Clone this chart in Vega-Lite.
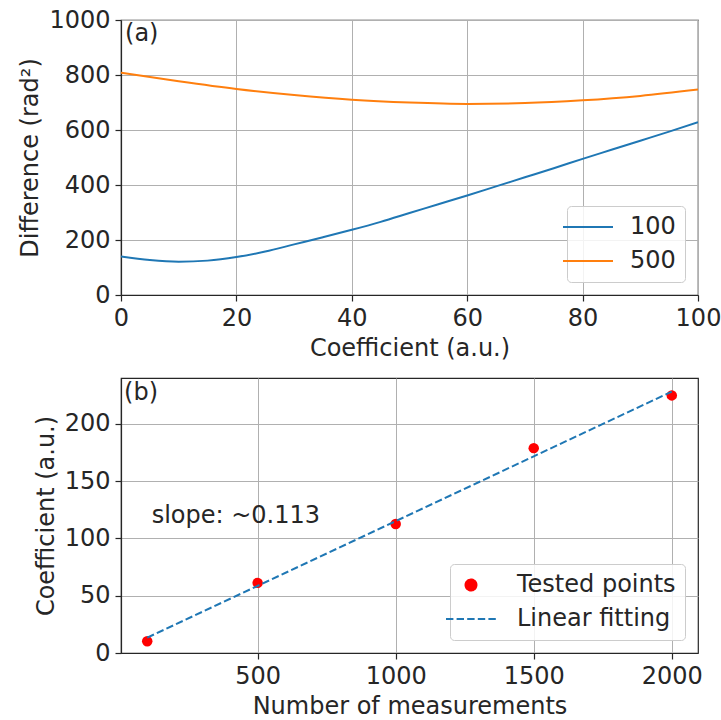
{
  "$schema": "https://vega.github.io/schema/vega-lite/v6.json",
  "background": "white",
  "padding": {"left": 18, "top": 7, "right": 5, "bottom": 5},
  "spacing": 16,
  "resolve": {"scale": {"color": "independent"}, "legend": {"color": "independent"}},
  "config": {
    "font": "DejaVu Sans",
    "view": {"stroke": "#262626", "strokeWidth": 1.2},
    "axis": {
      "labelFont": "DejaVu Sans", "labelFontSize": 24, "labelColor": "#262626",
      "titleFont": "DejaVu Sans", "titleFontSize": 24, "titleFontWeight": "normal", "titleColor": "#262626",
      "grid": true, "gridColor": "#b0b0b0", "gridWidth": 1,
      "tickColor": "#262626", "tickSize": 6, "tickWidth": 1.2,
      "domainColor": "#262626", "domainWidth": 1.2,
      "labelPadding": 5, "labelFlush": false, "labelOverlap": false, "labelBound": false,
      "titlePadding": 6, "format": "d"
    },
    "legend": {
      "labelFont": "DejaVu Sans", "labelFontSize": 24, "labelColor": "#262626",
      "fillColor": "rgba(255,255,255,0.85)", "strokeColor": "#cccccc", "cornerRadius": 4,
      "padding": 9, "offset": 13, "labelOffset": 34, "rowPadding": 10
    }
  },
  "datasets": {
    "curves": [
      {"coef": 0, "diff": 140, "n": "100"}, {"coef": 5, "diff": 127, "n": "100"}, {"coef": 10, "diff": 121, "n": "100"},
      {"coef": 15, "diff": 125, "n": "100"}, {"coef": 20, "diff": 138, "n": "100"}, {"coef": 25, "diff": 158, "n": "100"},
      {"coef": 30, "diff": 184, "n": "100"}, {"coef": 35, "diff": 210, "n": "100"}, {"coef": 40, "diff": 237, "n": "100"},
      {"coef": 45, "diff": 266, "n": "100"}, {"coef": 50, "diff": 298, "n": "100"}, {"coef": 55, "diff": 330, "n": "100"},
      {"coef": 60, "diff": 362, "n": "100"}, {"coef": 65, "diff": 395, "n": "100"}, {"coef": 70, "diff": 428, "n": "100"},
      {"coef": 75, "diff": 461, "n": "100"}, {"coef": 80, "diff": 495, "n": "100"}, {"coef": 85, "diff": 528, "n": "100"},
      {"coef": 90, "diff": 561, "n": "100"}, {"coef": 95, "diff": 594, "n": "100"}, {"coef": 100, "diff": 628, "n": "100"},
      {"coef": 0, "diff": 808, "n": "500"}, {"coef": 10, "diff": 777, "n": "500"}, {"coef": 20, "diff": 749, "n": "500"},
      {"coef": 30, "diff": 727, "n": "500"}, {"coef": 40, "diff": 710, "n": "500"}, {"coef": 50, "diff": 700, "n": "500"},
      {"coef": 60, "diff": 695, "n": "500"}, {"coef": 70, "diff": 698, "n": "500"}, {"coef": 80, "diff": 708, "n": "500"},
      {"coef": 90, "diff": 724, "n": "500"}, {"coef": 100, "diff": 747, "n": "500"}
    ],
    "labelA": [{"x": 0.7, "y": 949, "label": "(a)"}],
    "points": [
      {"n": 100, "value": 10.2, "series": "Tested points"},
      {"n": 500, "value": 61.2, "series": "Tested points"},
      {"n": 1000, "value": 112.6, "series": "Tested points"},
      {"n": 1500, "value": 178.8, "series": "Tested points"},
      {"n": 2000, "value": 224.8, "series": "Tested points"}
    ],
    "fit": [
      {"n": 100, "value": 13.4, "series": "Linear fitting"},
      {"n": 2000, "value": 228.1, "series": "Linear fitting"}
    ],
    "labelsB": [
      {"x": 16, "y": 227, "label": "(b)"},
      {"x": 116, "y": 120, "label": "slope: ~0.113"}
    ]
  },
  "vconcat": [
    {
      "width": 577,
      "height": 275,
      "layer": [
        {
          "data": {"name": "curves"},
          "mark": {"type": "line", "strokeWidth": 2, "clip": true, "interpolate": "monotone"},
          "encoding": {
            "x": {"field": "coef", "type": "quantitative", "scale": {"domain": [0, 100], "nice": false, "zero": false},
                  "axis": {"title": "Coefficient (a.u.)", "values": [0, 20, 40, 60, 80, 100]}},
            "y": {"field": "diff", "type": "quantitative", "scale": {"domain": [0, 1000], "nice": false},
                  "axis": {"title": "Difference (rad²)", "values": [0, 200, 400, 600, 800, 1000]}},
            "color": {"field": "n", "type": "nominal",
                      "scale": {"domain": ["100", "500"], "range": ["#1f77b4", "#ff7f0e"]},
                      "legend": {"title": null, "orient": "bottom-right", "labelOffset": 30,
                        "encode": {"symbols": {"update": {
                          "shape": {"value": "stroke"},
                          "size": {"signal": "datum.value === '100' || datum.value === '500' ? 2500 : 120"},
                          "strokeWidth": {"value": 2},
                          "opacity": {"value": 1}
                        }}}}}
          }
        },
        {
          "data": {"name": "labelA"},
          "mark": {"type": "text", "align": "left", "baseline": "middle", "fontSize": 24, "font": "DejaVu Sans", "color": "#262626"},
          "encoding": {
            "x": {"field": "x", "type": "quantitative"},
            "y": {"field": "y", "type": "quantitative"},
            "text": {"field": "label"}
          }
        }
      ]
    },
    {
      "width": 577,
      "height": 275,
      "layer": [
        {
          "data": {"name": "points"},
          "mark": {"type": "point", "filled": true, "size": 110, "opacity": 1},
          "encoding": {
            "x": {"field": "n", "type": "quantitative", "scale": {"domain": [5, 2095], "nice": false, "zero": false},
                  "axis": {"title": "Number of measurements", "values": [500, 1000, 1500, 2000]}},
            "y": {"field": "value", "type": "quantitative", "scale": {"domain": [0, 240], "nice": false},
                  "axis": {"title": "Coefficient (a.u.)", "values": [0, 50, 100, 150, 200]}},
            "color": {"field": "series", "type": "nominal",
                      "scale": {"domain": ["Tested points", "Linear fitting"], "range": ["#ff0000", "#1f77b4"]},
                      "legend": {
                        "title": null, "orient": "bottom-right",
                        "encode": {"symbols": {"update": {
                          "shape": {"signal": "datum.value === 'Linear fitting' ? 'stroke' : 'circle'"},
                          "size": {"signal": "datum.value === 'Linear fitting' ? 2500 : 120"},
                          "strokeDash": {"signal": "datum.value === 'Linear fitting' ? [7.4, 3.2] : [1, 0]"},
                          "fill": {"signal": "datum.value === 'Linear fitting' ? 'transparent' : '#ff0000'"},
                          "stroke": {"signal": "datum.value === 'Linear fitting' ? '#1f77b4' : 'transparent'"},
                          "strokeWidth": {"value": 2},
                          "opacity": {"value": 1}
                        }}}
                      }}
          }
        },
        {
          "data": {"name": "fit"},
          "mark": {"type": "line", "strokeWidth": 2, "strokeDash": [7.4, 3.2]},
          "encoding": {
            "x": {"field": "n", "type": "quantitative"},
            "y": {"field": "value", "type": "quantitative"},
            "color": {"field": "series", "type": "nominal",
                      "legend": {
                        "title": null, "orient": "bottom-right",
                        "encode": {"symbols": {"update": {
                          "shape": {"signal": "datum.value === 'Linear fitting' ? 'stroke' : 'circle'"},
                          "size": {"signal": "datum.value === 'Linear fitting' ? 2500 : 120"},
                          "strokeDash": {"signal": "datum.value === 'Linear fitting' ? [7.4, 3.2] : [1, 0]"},
                          "fill": {"signal": "datum.value === 'Linear fitting' ? 'transparent' : '#ff0000'"},
                          "stroke": {"signal": "datum.value === 'Linear fitting' ? '#1f77b4' : 'transparent'"},
                          "strokeWidth": {"value": 2},
                          "opacity": {"value": 1}
                        }}}
                      }}
          }
        },
        {
          "data": {"name": "labelsB"},
          "mark": {"type": "text", "align": "left", "baseline": "middle", "fontSize": 24, "font": "DejaVu Sans", "color": "#262626"},
          "encoding": {
            "x": {"field": "x", "type": "quantitative"},
            "y": {"field": "y", "type": "quantitative"},
            "text": {"field": "label"}
          }
        }
      ]
    }
  ]
}
